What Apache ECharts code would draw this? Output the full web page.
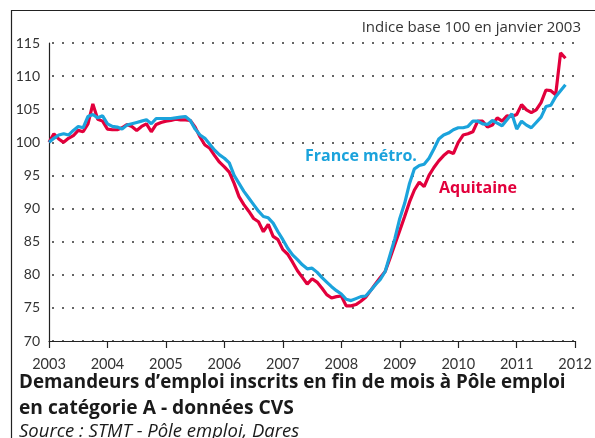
<!DOCTYPE html>
<html><head><meta charset="utf-8">
<script src="https://cdn.jsdelivr.net/npm/echarts@6/dist/echarts.min.js"></script>
<style>html,body{margin:0;padding:0;background:#fff}#c{width:595px;height:438px}</style>
</head><body><div id="c"></div>
<script>
// Monthly index values, base 100 = January 2003, from Jan 2003 to Nov 2011
const startYear = 2003;
const yearTicks = [2003, 2004, 2005, 2006, 2007, 2008, 2009, 2010, 2011, 2012];
const yTicks = [70, 75, 80, 85, 90, 95, 100, 105, 110, 115];

const france = [
  100.0, 100.6, 101.1, 101.3, 101.1, 101.8, 102.4, 102.2, 103.9, 104.2, 103.7, 104.0,
  102.8, 102.4, 102.3, 102.0, 102.6, 102.8, 103.0, 103.2, 103.4, 102.8, 103.6, 103.6,
  103.6, 103.6, 103.7, 103.8, 103.9, 103.3, 102.0, 101.1, 100.6, 99.7, 98.8, 98.1,
  97.6, 96.9, 95.0, 93.8, 92.6, 91.6, 90.6, 89.6, 88.8, 88.6, 87.8, 86.5,
  85.3, 84.0, 83.0, 82.3, 81.5, 80.9, 81.0, 80.4, 79.6, 78.9, 78.2, 77.6,
  77.1, 76.3, 76.1, 76.4, 76.7, 76.8, 77.6, 78.5, 79.3, 80.5, 83.0, 85.5,
  88.5, 90.8, 93.8, 96.0, 96.5, 96.7, 97.6, 99.0, 100.5, 101.1, 101.4, 101.9,
  102.2, 102.2, 102.4, 103.2, 103.2, 102.8, 102.7, 103.3, 102.9, 102.5, 103.4, 104.3,
  102.0, 103.2, 102.6, 102.2, 103.0, 103.8, 105.4, 105.6, 106.9, 107.8, 108.7
];
const aquitaine = [
  100.0, 101.3, 100.5, 100.0, 100.6, 101.0, 101.8, 101.6, 102.8, 105.8, 103.5, 103.2,
  102.0, 101.9, 101.9, 102.2, 102.7, 102.4, 101.8, 102.4, 102.8, 101.6, 102.7, 103.0,
  103.2, 103.3, 103.5, 103.4, 103.4, 103.3, 102.3, 100.8, 99.6, 99.1, 98.0, 97.0,
  96.3, 95.5, 93.8, 91.8, 90.6, 89.6, 88.5, 88.0, 86.5, 87.6, 85.8, 85.3,
  83.8, 83.1, 81.9, 80.6, 79.6, 78.6, 79.4, 78.9, 78.0, 77.0, 76.5, 76.7,
  76.8, 75.3, 75.3, 75.5, 76.0, 76.6, 77.6, 78.6, 79.6, 80.5, 82.5, 84.6,
  86.7, 88.8, 91.0, 92.8, 94.0, 93.3, 95.0, 96.2, 97.2, 98.0, 98.6, 98.3,
  100.0, 101.1, 101.3, 101.6, 103.2, 103.2, 102.3, 102.6, 103.7, 103.2, 104.0, 103.9,
  104.2, 105.7, 104.9, 104.5, 104.9, 106.0, 107.9, 107.8, 107.2, 113.5, 112.7
];

const toPairs = arr => arr.map((v, i) => [startYear + i / 12, v]);

const FONT = 'Lato, "Open Sans", sans-serif';
const FONT2 = '"Open Sans", Lato, sans-serif';
const chart = echarts.init(document.getElementById('c'), null, {renderer: 'canvas'});
chart.setOption({
  animation: false,
  backgroundColor: '#ffffff',
  grid: {left: 49, right: 13, top: 43, bottom: 97, containLabel: false},
  xAxis: {
    type: 'value',
    min: yearTicks[0], max: yearTicks[yearTicks.length - 1], interval: 1,
    axisLine: {show: true, lineStyle: {color: '#222', width: 1.2}},
    axisTick: {show: true, length: 7, inside: false, lineStyle: {color: '#222', width: 1.2}},
    axisLabel: {color: '#333', fontSize: 14.5, fontFamily: FONT, margin: 16,
      formatter: v => String(Math.round(v))},
    splitLine: {show: false}
  },
  yAxis: {
    type: 'value',
    min: yTicks[0], max: yTicks[yTicks.length - 1], interval: 5,
    axisLine: {show: true, lineStyle: {color: '#222', width: 1.2}},
    axisTick: {show: false},
    axisLabel: {color: '#333', fontSize: 14, fontFamily: FONT, margin: 9},
    splitLine: {show: true, lineStyle: {color: '#333', width: 1.6, type: [2, 8], dashOffset: -3}}
  },
  series: [
    {name: 'Aquitaine', type: 'line', data: toPairs(aquitaine), showSymbol: false, symbol: 'none',
      lineStyle: {color: '#E2003C', width: 3.2}, z: 3},
    {name: 'France métro.', type: 'line', data: toPairs(france), showSymbol: false, symbol: 'none',
      lineStyle: {color: '#1BA3DC', width: 3.2}, z: 4}
  ],
  graphic: [
    {type: 'line', shape: {x1: 11, y1: 10.5, x2: 595, y2: 10.5}, style: {stroke: '#222', lineWidth: 1.2}},
    {type: 'line', shape: {x1: 11.5, y1: 10, x2: 11.5, y2: 438}, style: {stroke: '#222', lineWidth: 1.2}},
    {type: 'text', right: 14, top: 20, style: {text: 'Indice base 100 en janvier 2003', fill: '#333', font: '15px ' + FONT2}},
    {type: 'text', left: 305, top: 148, style: {text: 'France métro.', fill: '#1BA3DC', font: 'bold 16px ' + FONT2}},
    {type: 'text', left: 439, top: 180, style: {text: 'Aquitaine', fill: '#E2003C', font: 'bold 16px ' + FONT2}},
    {type: 'text', left: 19, top: 373, style: {text: 'Demandeurs d\u2019emploi inscrits en fin de mois à Pôle emploi', fill: '#1a1a1a', font: 'bold 18.8px ' + FONT2}},
    {type: 'text', left: 19, top: 399, style: {text: 'en catégorie A - données CVS', fill: '#1a1a1a', font: 'bold 19.2px ' + FONT2}},
    {type: 'text', left: 19, top: 422, style: {text: 'Source : STMT - Pôle emploi, Dares', fill: '#1a1a1a', font: 'italic 18.5px ' + FONT2}}
  ]
});
</script>
</body></html>
